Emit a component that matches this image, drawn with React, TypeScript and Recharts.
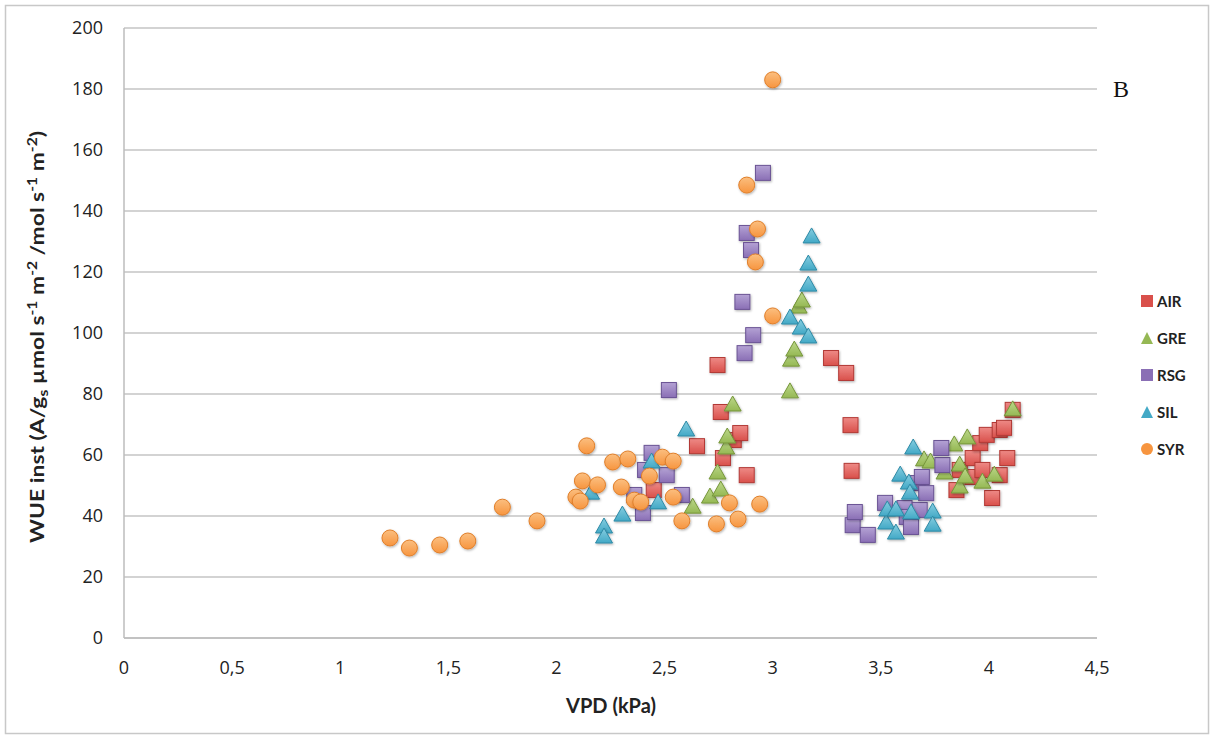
import React from "react";
import { ScatterChart, Scatter, XAxis, YAxis, CartesianGrid, Legend } from "recharts";

// [VPD kPa, WUE inst]
const AIR: [number, number][] = [
  [2.45, 48.5], [2.65, 62.9], [2.745, 89.5], [2.76, 74.1], [2.77, 59.0], [2.82, 64.9],
  [2.85, 67.2], [2.88, 53.4], [3.27, 91.8], [3.34, 86.9], [3.36, 69.8], [3.365, 54.8],
  [3.85, 48.5], [3.865, 55.1], [3.925, 52.8], [3.925, 59.0], [3.96, 63.9], [3.97, 55.1],
  [3.99, 66.6], [4.015, 45.9], [4.05, 53.4], [4.05, 68.2], [4.07, 68.9], [4.085, 59.0],
  [4.11, 74.8],
];
const GRE: [number, number][] = [
  [2.63, 42.9], [2.71, 46.2], [2.745, 54.1], [2.76, 48.5], [2.785, 62.3], [2.79, 65.9],
  [2.815, 76.4], [3.08, 80.7], [3.085, 91.1], [3.1, 94.4], [3.12, 108.5], [3.135, 110.5],
  [3.7, 58.4], [3.73, 57.7], [3.795, 54.1], [3.84, 63.3], [3.865, 56.7], [3.865, 49.5],
  [3.89, 52.8], [3.9, 65.6], [3.97, 51.1], [4.025, 53.4], [4.11, 74.8],
];
const RSG: [number, number][] = [
  [2.36, 46.9], [2.4, 41.0], [2.41, 55.1], [2.44, 60.7], [2.51, 53.4], [2.52, 81.3],
  [2.58, 46.9], [2.86, 110.2], [2.87, 93.4], [2.88, 132.8], [2.9, 127.2], [2.91, 99.3],
  [2.955, 152.5], [3.37, 37.0], [3.38, 41.3], [3.44, 33.8], [3.52, 44.3], [3.61, 42.6],
  [3.62, 39.7], [3.64, 36.4], [3.67, 50.8], [3.68, 42.0], [3.69, 52.8], [3.71, 47.5],
  [3.785, 56.7], [3.78, 62.3],
];
const SIL: [number, number][] = [
  [2.16, 47.5], [2.22, 36.4], [2.22, 33.1], [2.305, 40.3], [2.44, 57.7], [2.47, 44.3],
  [2.6, 68.2], [3.08, 104.9], [3.13, 101.6], [3.165, 98.7], [3.165, 115.7], [3.165, 122.6],
  [3.18, 131.5], [3.525, 37.7], [3.53, 42.0], [3.57, 42.0], [3.57, 34.4], [3.59, 53.4],
  [3.63, 50.8], [3.635, 47.5], [3.64, 41.0], [3.65, 62.3], [3.74, 41.3], [3.74, 37.0],
];
const SYR: [number, number][] = [
  [1.23, 32.8], [1.32, 29.5], [1.46, 30.5], [1.59, 31.8], [1.75, 42.9], [1.91, 38.4],
  [2.09, 46.2], [2.11, 44.9], [2.12, 51.5], [2.14, 63.0], [2.19, 50.2], [2.26, 57.7],
  [2.3, 49.5], [2.33, 58.7], [2.36, 45.2], [2.39, 44.6], [2.43, 53.1], [2.49, 59.3],
  [2.54, 58.0], [2.54, 46.2], [2.58, 38.4], [2.74, 37.4], [2.8, 44.3], [2.84, 39.0],
  [2.94, 43.9], [2.88, 148.5], [2.93, 134.1], [2.92, 123.3], [3.0, 183.0], [3.0, 105.6],
];

const X_TICKS = [0, 0.5, 1, 1.5, 2, 2.5, 3, 3.5, 4, 4.5];
const Y_TICKS = [0, 20, 40, 60, 80, 100, 120, 140, 160, 180, 200];

type Kind = "square" | "triangle" | "circle";
const SERIES: { name: string; data: [number, number][]; kind: Kind; fill: string; light: string; stroke: string }[] = [
  { name: "AIR", data: AIR, kind: "square", fill: "#d9504b", light: "#ee8a86", stroke: "#b23a36" },
  { name: "GRE", data: GRE, kind: "triangle", fill: "#95b854", light: "#bcd88a", stroke: "#76963a" },
  { name: "RSG", data: RSG, kind: "square", fill: "#8a6fb5", light: "#b4a2d4", stroke: "#6a5394" },
  { name: "SIL", data: SIL, kind: "triangle", fill: "#43a9c6", light: "#86cde0", stroke: "#2d8aa6" },
  { name: "SYR", data: SYR, kind: "circle", fill: "#f7953f", light: "#fbbf80", stroke: "#e07f2a" },
];

const TICK_FONT = "'Open Sans', 'DejaVu Sans', sans-serif";
const LABEL_FONT = "Lato, 'Open Sans', sans-serif";

function Marker({ cx, cy, kind, id, stroke }: any) {
  if (cx == null || cy == null) return null;
  const fill = `url(#grad-${id})`;
  if (kind === "square") {
    return <rect x={cx - 7.5} y={cy - 7.5} width={15} height={15} fill={fill} stroke={stroke} strokeWidth={1} filter="url(#shadow)" />;
  }
  if (kind === "triangle") {
    const pts = `${cx},${cy - 9} ${cx + 8.5},${cy + 6} ${cx - 8.5},${cy + 6}`;
    return <polygon points={pts} fill={fill} stroke={stroke} strokeWidth={1} filter="url(#shadow)" />;
  }
  return <circle cx={cx} cy={cy} r={8} fill={fill} stroke={stroke} strokeWidth={1} filter="url(#shadow)" />;
}

function LegendBox() {
  return (
    <div style={{ display: "flex", flexDirection: "column" }}>
      {SERIES.map((s) => (
        <div key={s.name} style={{ height: 37, display: "flex", alignItems: "center" }}>
          <svg width={14} height={14} style={{ marginRight: 3 }}>
            {s.kind === "square" && <rect x={1} y={1} width={12} height={12} fill={s.fill} />}
            {s.kind === "triangle" && <polygon points="7,1 13,13 1,13" fill={s.fill} />}
            {s.kind === "circle" && <circle cx={7} cy={7} r={6} fill={s.fill} />}
          </svg>
          <span style={{ fontFamily: LABEL_FONT, fontWeight: 700, fontSize: 15, color: "#222" }}>{s.name}</span>
        </div>
      ))}
    </div>
  );
}

export default function App() {
  const fmt = (v: number) => String(v).replace(".", ",");
  return (
    <div style={{ position: "absolute", left: 0, top: 0, width: 1216, height: 740, background: "#fff" }}>
      <svg width={1216} height={740} style={{ position: "absolute", left: 0, top: 0 }}>
        <rect x={5.5} y={5.5} width={1203} height={728} fill="#fff" stroke="#c8c8c8" strokeWidth={1.5} />
        <text x={1121} y={97} fontFamily="'Liberation Serif', serif" fontSize={24} textAnchor="middle" fill="#111">B</text>
        <text x={611} y={713} fontFamily={LABEL_FONT} fontWeight={700} fontSize={20} textAnchor="middle" fill="#222">VPD (kPa)</text>
        <text
          transform="translate(44,337) rotate(-90)"
          fontFamily={LABEL_FONT}
          fontWeight={700}
          fontSize={19}
          textAnchor="middle"
          fill="#222"
          textLength={412}
          lengthAdjust="spacingAndGlyphs"
        >
          WUE inst (A/g<tspan fontSize={13} dy={4}>s</tspan>
          <tspan dy={-4}> µmol s</tspan><tspan fontSize={13} dy={-7}>-1</tspan>
          <tspan dy={7}> m</tspan><tspan fontSize={13} dy={-7}>-2</tspan>
          <tspan dy={7}> /mol s</tspan><tspan fontSize={13} dy={-7}>-1</tspan>
          <tspan dy={7}> m</tspan><tspan fontSize={13} dy={-7}>-2</tspan>
          <tspan dy={7}>)</tspan>
        </text>
      </svg>
      <div style={{ position: "absolute", left: 0, top: 0 }}>
        <ScatterChart width={1216} height={740} margin={{ top: 28, right: 119, bottom: 62, left: 60 }}>
          <defs>
            {SERIES.map((s) => (
              <linearGradient key={s.name} id={`grad-${s.name}`} x1="0" y1="0" x2="0" y2="1">
                <stop offset="0%" stopColor={s.light} />
                <stop offset="100%" stopColor={s.fill} />
              </linearGradient>
            ))}
            <filter id="shadow" x="-40%" y="-40%" width="180%" height="180%">
              <feDropShadow dx={0.8} dy={1.2} stdDeviation={1} floodColor="#000" floodOpacity={0.3} />
            </filter>
          </defs>
          <CartesianGrid horizontal vertical={false} stroke="#c4c4c4" strokeWidth={1.5} />
          <XAxis
            type="number"
            dataKey="vpd"
            domain={[0, 4.5]}
            ticks={X_TICKS}
            tickFormatter={fmt}
            interval={0}
            height={40}
            axisLine={{ stroke: "#bdbdbd", strokeWidth: 1.5 }}
            tickLine={false}
            tickSize={0}
            tickMargin={23}
            tick={{ fill: "#222", fontSize: 18, fontFamily: TICK_FONT }}
          />
          <YAxis
            type="number"
            dataKey="wue"
            domain={[0, 200]}
            ticks={Y_TICKS}
            interval={0}
            width={64}
            axisLine={{ stroke: "#bdbdbd", strokeWidth: 1.5 }}
            tickLine={false}
            tickSize={0}
            tickMargin={21}
            tick={{ fill: "#222", fontSize: 18, fontFamily: TICK_FONT }}
          />
          <Legend
            layout="vertical"
            align="center"
            verticalAlign="middle"
            content={() => <LegendBox />}
            wrapperStyle={{ left: 1140, top: 282, width: 70, right: "auto", bottom: "auto" }}
          />
          {SERIES.map((s) => (
            <Scatter
              key={s.name}
              name={s.name}
              data={s.data.map(([vpd, wue]) => ({ vpd, wue }))}
              isAnimationActive={false}
              shape={(p: any) => <Marker cx={p.cx} cy={p.cy} kind={s.kind} id={s.name} stroke={s.stroke} />}
            />
          ))}
        </ScatterChart>
      </div>
    </div>
  );
}
